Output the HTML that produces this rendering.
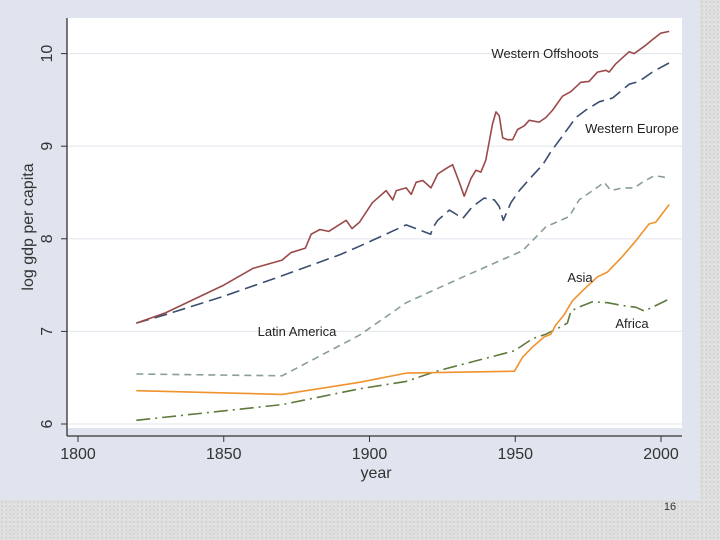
<!DOCTYPE html>
<html><head><meta charset="utf-8"><style>
html,body{margin:0;padding:0;}
body{width:720px;height:540px;overflow:hidden;background:#dedede;
background-image:radial-gradient(#d2d2d2 1px,transparent 1px),radial-gradient(#e9e9e9 1px,transparent 1px);
background-size:4px 4px,5px 5px;background-position:0 0,2px 2px;}
svg{position:absolute;left:0;top:0;}
text{font-family:"Liberation Sans",Arial,sans-serif;}
</style></head><body>
<svg id="chart" width="720" height="540" xmlns="http://www.w3.org/2000/svg">
<rect x="0" y="0" width="699" height="500" fill="#dfe4ef"/>
<rect x="67" y="18" width="615" height="410" fill="#ffffff"/>
<g id="grid"></g><g id="series"></g><g id="axes"></g><g id="labels"></g>
<text x="670" y="510" font-size="11" text-anchor="middle" fill="#333">16</text>
</svg>
<script>
const xTicks=[1800,1850,1900,1950,2000];
const yTicks=[6,7,8,9,10];
const woYears=[1820,1830,1840,1850,1860,1870,1873,1878,1880,1883,1886,1892,1894,1896.6,1901,1905.7,1908,1909.2,1912.6,1914.3,1916,1918.3,1921.1,1923.4,1926.3,1928.5,1930.8,1932.5,1934.8,1936.5,1938.2,1939.9,1942.2,1943.4,1944.5,1945.7,1947.4,1949.1,1950.8,1953.1,1954.8,1958.2,1960.5,1962.8,1966.2,1969.1,1972.5,1975.3,1978.2,1981.1,1982.2,1984.5,1989.1,1990.8,1994.7,1997,1999.9,2002.8];
const woVals=[7.09,7.2,7.35,7.5,7.68,7.77,7.85,7.9,8.05,8.1,8.08,8.2,8.11,8.18,8.39,8.52,8.42,8.52,8.55,8.48,8.61,8.63,8.55,8.7,8.76,8.8,8.61,8.46,8.65,8.74,8.72,8.85,9.24,9.37,9.33,9.09,9.07,9.07,9.18,9.22,9.28,9.26,9.31,9.39,9.54,9.59,9.69,9.7,9.8,9.82,9.8,9.89,10.02,10.0,10.09,10.15,10.22,10.24];
const weYears=[1820,1830,1850,1870,1890,1896.6,1912.6,1921,1921.7,1923.4,1927.4,1932,1935.4,1939.3,1942.8,1944.5,1945.9,1948.5,1951.4,1955.9,1959.4,1962.2,1966.2,1970.8,1974.2,1978.8,1983.4,1989.1,1992.5,1997,2002.8];
const weVals=[7.09,7.18,7.38,7.6,7.83,7.92,8.15,8.05,8.12,8.2,8.31,8.22,8.35,8.44,8.42,8.35,8.2,8.39,8.52,8.68,8.8,8.94,9.11,9.31,9.39,9.48,9.52,9.67,9.7,9.8,9.9];
const laYears=[1820,1870,1896.6,1912.6,1930.8,1944.5,1952.5,1955.9,1960.5,1968.5,1971.9,1978.8,1980.5,1982.8,1986.8,1990.8,1993.6,1997.6,2000.5,2002.8];
const laVals=[6.54,6.52,6.96,7.31,7.57,7.76,7.87,7.98,8.13,8.24,8.42,8.57,8.61,8.52,8.55,8.55,8.61,8.68,8.67,8.65];
const asYears=[1820,1870,1896.6,1912.6,1949.7,1952.5,1955.9,1959.9,1962.2,1963.9,1966.8,1969.6,1973.1,1978.2,1981.6,1986.8,1991.4,1995.9,1998.2,2002.8];
const asVals=[6.36,6.32,6.45,6.55,6.57,6.72,6.83,6.94,6.97,7.07,7.18,7.33,7.44,7.59,7.64,7.81,7.98,8.16,8.18,8.37];
const afYears=[1820,1870,1896.6,1912.6,1922.9,1949.7,1955.9,1960.5,1965,1967.9,1969.1,1972.5,1976.5,1981.6,1986.8,1991.4,1994.3,1997,2002.8];
const afVals=[6.04,6.21,6.38,6.46,6.57,6.79,6.92,6.97,7.04,7.09,7.22,7.27,7.32,7.31,7.28,7.26,7.22,7.26,7.35];
const NS="http://www.w3.org/2000/svg";
const xs=y=>78+(y-1800)*2.915;
const ys=v=>424-(v-6)*92.6;
function mk(tag,attrs,parent){const e=document.createElementNS(NS,tag);for(const k in attrs)e.setAttribute(k,attrs[k]);parent.appendChild(e);return e;}
const grid=document.getElementById('grid'),axes=document.getElementById('axes'),ser=document.getElementById('series'),lab=document.getElementById('labels');
yTicks.forEach(t=>{
 const g=mk('line',{x1:67,x2:682,y1:ys(t),y2:ys(t),stroke:'#e6e9f0','stroke-width':1.2},grid);
 
 
 const tk=mk('line',{x1:61,x2:67,y1:ys(t),y2:ys(t),stroke:'#333','stroke-width':1},axes);
 
 
 const tx=mk('text',{x:0,y:0,transform:`translate(52,${ys(t)}) rotate(-90)`,'font-size':16,'text-anchor':'middle',fill:'#333'},axes);
 tx.textContent=t;
 
 
});
xTicks.forEach(t=>{
 const tk=mk('line',{x1:xs(t),x2:xs(t),y1:436,y2:442,stroke:'#333','stroke-width':1},axes);
 
 
 const tx=mk('text',{x:xs(t),y:459,'font-size':16,'text-anchor':'middle',fill:'#333'},axes);
 tx.textContent=t;
 
 
});
const ax1=mk('line',{x1:67,x2:67,y1:18,y2:436,stroke:'#333','stroke-width':1.3},axes);


const ax2=mk('line',{x1:67,x2:682,y1:436,y2:436,stroke:'#333','stroke-width':1.3},axes);


const yt=mk('text',{x:0,y:0,transform:'translate(33,227) rotate(-90)','font-size':16,'text-anchor':'middle',fill:'#333'},axes);
yt.textContent='log gdp per capita';


const xt=mk('text',{x:376,y:478,'font-size':16,'text-anchor':'middle',fill:'#333'},axes);
xt.textContent='year';


function line(years,vals,color,dash,name){
 const d=years.map((y,i)=>(i?'L':'M')+xs(y).toFixed(1)+','+ys(vals[i]).toFixed(1)).join('');
 const p=mk('path',{d:d,fill:'none',stroke:color,'stroke-width':1.6,'stroke-dasharray':dash,'stroke-linejoin':'round'},ser);
 
 
}
line(laYears,laVals,'#8a9e96','7 5','latin-america-line');
line(afYears,afVals,'#5e7a3c','14 5 2 5','africa-line');
line(asYears,asVals,'#f0922e','none','asia-line');
line(weYears,weVals,'#3c4e70','13 6','western-europe-line');
line(woYears,woVals,'#9b4a4a','none','western-offshoots-line');
[['Western Offshoots',545,58,'label-western-offshoots'],['Western Europe',632,133,'label-western-europe'],['Latin America',297,336,'label-latin-america'],['Asia',580,282,'label-asia'],['Africa',632,328,'label-africa']].forEach(a=>{
 const t=mk('text',{x:a[1],y:a[2],'font-size':13,'text-anchor':'middle',fill:'#222'},lab);
 t.textContent=a[0];
 
 
});
</script>
</body></html>
